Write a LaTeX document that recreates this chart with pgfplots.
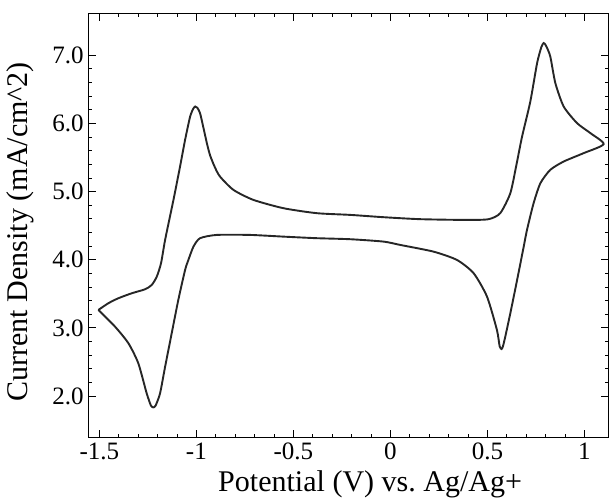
\documentclass[border=0pt]{standalone}
\usepackage{fontspec}
\setmainfont{Liberation Serif}
\usepackage{pgfplots}
\pgfplotsset{compat=1.18}

% cyclic voltammogram, forward sweep then return sweep
\pgfplotstableread{
x y
-1.505 3.263
-1.454 3.361
-1.402 3.435
-1.333 3.508
-1.264 3.567
-1.230 3.630
-1.204 3.752
-1.182 3.949
-1.161 4.291
-1.118 4.878
-1.084 5.367
-1.058 5.759
-1.032 6.101
-1.016 6.215
-1.006 6.248
-0.995 6.230
-0.981 6.151
-0.963 5.930
-0.945 5.700
-0.929 5.530
-0.905 5.360
-0.878 5.220
-0.809 5.025
-0.706 4.878
-0.551 4.756
-0.379 4.683
-0.207 4.658
-0.035 4.624
0.154 4.595
0.395 4.584
0.506 4.595
0.566 4.683
0.618 4.976
0.650 5.400
0.678 5.800
0.721 6.320
0.756 6.885
0.778 7.120
0.790 7.179
0.802 7.140
0.824 6.982
0.850 6.592
0.893 6.248
0.962 6.004
1.031 5.857
1.099 5.696
0.996 5.564
0.893 5.441
0.824 5.319
0.773 5.123
0.738 4.830
0.704 4.438
0.687 4.192
0.653 3.703
0.618 3.214
0.592 2.871
0.580 2.730
0.573 2.690
0.563 2.730
0.549 2.969
0.498 3.458
0.429 3.802
0.343 3.997
0.222 4.119
0.051 4.217
-0.035 4.266
-0.207 4.301
-0.379 4.316
-0.551 4.339
-0.723 4.364
-0.895 4.364
-0.981 4.316
-1.015 4.192
-1.041 3.997
-1.058 3.850
-1.093 3.410
-1.127 2.921
-1.161 2.430
-1.187 2.040
-1.210 1.860
-1.222 1.834
-1.234 1.860
-1.256 2.040
-1.299 2.480
-1.350 2.774
-1.419 3.018
-1.505 3.263
}\cvdata

\begin{document}
\begin{tikzpicture}
\begin{axis}[
    name=ax,
    at={(0,0)}, anchor=south west,
    scale only axis,
    width=520pt, height=424.4pt,
    xmin=-1.558, xmax=1.124,
    ymin=1.388, ymax=7.62,
    xtick={-1.5,-1,-0.5,0,0.5,1},
    xticklabels={-1.5,-1,-0.5,0,0.5,1},
    ytick={2,3,4,5,6,7},
    yticklabels={2.0,3.0,4.0,5.0,6.0,7.0},
    minor x tick num=4,
    minor y tick num=4,
    tick align=inside,
    major tick length=8pt,
    minor tick length=4pt,
    every tick/.style={black, line width=0.8pt},
    axis line style={black, line width=1pt},
    tick label style={font=\fontsize{25}{27}\selectfont},
    xticklabel style={yshift=-2pt},
    yticklabel style={xshift=-1pt},
    label style={font=\fontsize{30}{32}\selectfont},
    xlabel={Potential (V) vs.\ Ag/Ag+},
    ylabel={Current Density (mA/cm\textasciicircum 2)},
    xlabel style={at={(axis description cs:0.542,-0.127)}, anchor=base},
    ylabel style={at={(axis description cs:-0.131,0.485)}, anchor=center},
    clip=false,
]
\addplot[black!85, line width=1.9pt, smooth, tension=0.4] table {\cvdata};
\end{axis}
\pgfresetboundingbox
\path ([shift={(-88pt,-63pt)}]ax.south west) rectangle ([shift={(0.5pt,13pt)}]ax.north east);
\end{tikzpicture}
\end{document}
